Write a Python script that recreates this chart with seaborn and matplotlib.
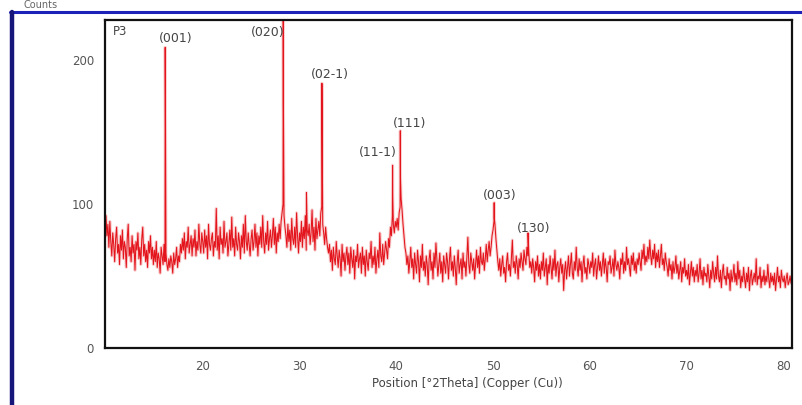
import numpy as np
import pandas as pd
import matplotlib
matplotlib.use("Agg")
import matplotlib.pyplot as plt
import seaborn as sns
from matplotlib.lines import Line2D
from matplotlib.ticker import MultipleLocator

# ---------------- data ----------------
# background counts on a 0.1 deg 2theta grid, 10.0 ... 80.8
bg_10_15 = [92, 78, 86, 70, 88, 74, 64, 80, 72, 60,
            76, 84, 66, 72, 58, 78, 68, 82, 62, 74,
            70, 56, 76, 86, 64, 70, 60, 78, 66, 72,
            54, 74, 68, 80, 62, 70, 58, 76, 84, 64,
            72, 60, 68, 56, 74, 66, 78, 62, 70, 58]
bg_15_20 = [68, 60, 74, 56, 66, 62, 52, 70, 64, 58,
            72, 60, 66, 58, 54, 62, 56, 64, 60, 52,
            66, 58, 62, 70, 56, 64, 60, 72, 66, 76,
            68, 80, 62, 74, 70, 84, 66, 72, 78, 64,
            76, 70, 82, 64, 74, 68, 86, 72, 66, 80]
bg_20_25 = [74, 66, 82, 70, 78, 62, 86, 72, 68, 76,
            80, 64, 74, 70, 97, 68, 78, 62, 84, 72,
            76, 66, 88, 70, 74, 80, 64, 72, 82, 68,
            91, 70, 76, 64, 84, 72, 68, 80, 74, 62,
            78, 70, 86, 66, 92, 74, 68, 80, 72, 64]
bg_25_30 = [76, 82, 68, 74, 86, 70, 80, 64, 78, 72,
            84, 70, 92, 74, 66, 80, 72, 88, 68, 76,
            82, 70, 78, 90, 72, 84, 66, 80, 74, 86,
            76, 88, 94, 100, 92, 84, 78, 70, 86, 74,
            82, 68, 90, 76, 72, 84, 70, 94, 78, 66]
bg_30_35 = [80, 74, 88, 70, 84, 76, 92, 68, 82, 78,
            86, 72, 80, 96, 74, 84, 68, 90, 76, 82,
            88, 78, 94, 98, 86, 80, 72, 84, 76, 70,
            66, 72, 60, 68, 54, 70, 62, 58, 74, 64,
            56, 68, 62, 50, 72, 60, 66, 54, 64, 70]
bg_35_40 = [58, 66, 52, 70, 62, 56, 68, 48, 64, 60,
            72, 56, 62, 66, 52, 70, 58, 64, 50, 68,
            60, 54, 66, 62, 74, 56, 64, 58, 70, 52,
            62, 68, 56, 80, 64, 60, 72, 58, 66, 74,
            68, 62, 76, 70, 84, 78, 92, 86, 80, 88]
bg_40_45 = [84, 90, 82, 94, 98, 104, 96, 86, 78, 70,
            66, 58, 64, 52, 60, 70, 56, 62, 48, 66,
            58, 52, 68, 60, 46, 64, 56, 72, 54, 60,
            50, 64, 58, 44, 62, 68, 54, 60, 48, 66,
            56, 73, 62, 50, 58, 66, 52, 60, 46, 64]
bg_45_50 = [58, 52, 66, 60, 48, 62, 70, 54, 60, 50,
            64, 56, 44, 60, 68, 52, 58, 62, 48, 66,
            56, 60, 50, 64, 77, 58, 52, 66, 60, 54,
            62, 48, 58, 68, 56, 64, 52, 70, 60, 58,
            66, 54, 62, 72, 60, 68, 74, 64, 70, 78]
bg_50_55 = [82, 88, 86, 76, 68, 60, 54, 62, 50, 58,
            64, 52, 56, 46, 60, 66, 54, 58, 50, 62,
            75, 56, 60, 52, 64, 58, 48, 62, 56, 66,
            60, 54, 68, 62, 58, 70, 64, 66, 56, 60,
            52, 62, 56, 46, 60, 54, 64, 50, 58, 48]
bg_55_60 = [60, 54, 66, 50, 56, 62, 44, 58, 52, 64,
            56, 48, 62, 54, 68, 50, 58, 60, 46, 56,
            62, 52, 58, 40, 54, 60, 48, 56, 64, 50,
            58, 66, 52, 48, 60, 54, 70, 56, 50, 62,
            54, 60, 46, 58, 64, 52, 56, 48, 62, 58]
bg_60_65 = [52, 60, 56, 66, 50, 58, 62, 48, 56, 64,
            54, 60, 50, 58, 66, 52, 62, 56, 46, 60,
            58, 64, 52, 56, 62, 50, 68, 58, 54, 60,
            56, 48, 62, 58, 66, 52, 60, 54, 70, 58,
            62, 56, 50, 64, 58, 66, 54, 60, 52, 62]
bg_65_70 = [58, 66, 60, 54, 68, 62, 72, 58, 64, 60,
            70, 62, 75, 64, 58, 68, 62, 72, 56, 66,
            60, 68, 56, 64, 72, 58, 62, 54, 66, 60,
            56, 50, 62, 54, 58, 48, 60, 52, 56, 64,
            52, 58, 48, 54, 60, 46, 56, 52, 62, 50]
bg_70_75 = [54, 48, 58, 44, 52, 60, 50, 56, 46, 54,
            50, 58, 46, 52, 62, 48, 54, 44, 56, 50,
            52, 46, 58, 50, 42, 54, 48, 60, 52, 46,
            56, 48, 64, 50, 46, 54, 42, 52, 58, 48,
            50, 44, 56, 48, 52, 40, 54, 46, 50, 58]
bg_75_80 = [46, 52, 44, 60, 48, 54, 42, 50, 46, 56,
            48, 42, 52, 46, 56, 40, 50, 54, 44, 48,
            52, 46, 62, 44, 50, 48, 56, 42, 50, 46,
            54, 44, 50, 46, 58, 48, 42, 52, 46, 50,
            44, 52, 40, 48, 56, 46, 50, 42, 54, 48]
bg_80_81 = [46, 50, 42, 48, 52, 44, 46, 50, 45]

# reflection samples (peak tops and shoulders)
peak_2theta = [16.12, 16.14, 28.32, 28.34, 30.72, 32.32, 32.34, 39.62, 39.64,
               40.42, 40.44, 50.12, 50.14, 53.62]
peak_counts = [209, 180, 232, 170, 108, 184, 160, 127, 105, 151, 118, 101, 90, 80]

# Miller index labels
hkl_labels = ["(001)", "(020)", "(02-1)", "(11-1)", "(111)", "(003)", "(130)"]
hkl_x = [17.2, 26.7, 33.1, 38.1, 41.4, 50.7, 54.2]
hkl_y = [215, 219, 190, 136, 156, 106, 83]

x_ticks = [20, 30, 40, 50, 60, 70, 80]
y_ticks = [0, 100, 200]

# ---------------- build table ----------------
bg = (bg_10_15 + bg_15_20 + bg_20_25 + bg_25_30 + bg_30_35 + bg_35_40 + bg_40_45 +
      bg_45_50 + bg_50_55 + bg_55_60 + bg_60_65 + bg_65_70 + bg_70_75 + bg_75_80 + bg_80_81)
grid = np.round(10.0 + 0.1 * np.arange(len(bg)), 2)
df = pd.DataFrame({"two_theta": np.concatenate([grid, peak_2theta]),
                   "counts": np.concatenate([bg, peak_counts])})
df = df.sort_values("two_theta").reset_index(drop=True)

# ---------------- figure ----------------
sns.set_style("white")
plt.rcParams["font.family"] = ["DejaVu Sans"]

fig = plt.figure(figsize=(8.03, 4.05), dpi=100)
ax = fig.add_axes([105 / 803, 1 - 348 / 405, (792 - 105) / 803, (348 - 20) / 405])

# soft halo (like the blurred original) + red trace
sns.lineplot(data=df, x="two_theta", y="counts", ax=ax, color="#f4a0a0",
             linewidth=2.2, alpha=0.5, estimator=None, sort=False)
sns.lineplot(data=df, x="two_theta", y="counts", ax=ax, color="#e3141c",
             linewidth=0.75, estimator=None, sort=False)

ax.set_xlim(9.9, 80.9)
ax.set_ylim(0, 228)
ax.set_xticks(x_ticks)
ax.set_yticks(y_ticks)
ax.xaxis.set_minor_locator(MultipleLocator(1))
ax.tick_params(axis="x", which="major", direction="out", length=6, width=1.2,
               colors="#333333", labelcolor="#555555", labelsize=8.5, pad=3)
ax.tick_params(axis="x", which="minor", direction="out", length=3, width=0.8, colors="#333333")
ax.tick_params(axis="y", which="major", direction="out", length=5, width=1.2,
               colors="#333333", labelcolor="#555555", labelsize=8.5, pad=3)
for s in ax.spines.values():
    s.set_visible(True)
    s.set_color("#111111")
    s.set_linewidth(1.6)

ax.set_xlabel("")
ax.set_ylabel("")
fig.text(467 / 803, 1 - 383 / 405, "Position [°2Theta] (Copper (Cu))", ha="center",
         va="center", fontsize=8.5, color="#444444")

for lab, xx, yy in zip(hkl_labels, hkl_x, hkl_y):
    ax.text(xx, yy, lab, ha="center", va="center", fontsize=9, color="#444444")
ax.text(0.012, 0.985, "P3", transform=ax.transAxes, ha="left", va="top",
        fontsize=8.5, color="#444444")

# window frame (blue) and "Counts" caption
fig.add_artist(Line2D([10 / 803, 1.0], [1 - 12 / 405, 1 - 12 / 405],
                      transform=fig.transFigure, color="#1c22b8", linewidth=2.2))
fig.add_artist(Line2D([12 / 803, 12 / 803], [0, 1 - 12 / 405],
                      transform=fig.transFigure, color="#16167a", linewidth=3.2))
fig.text(24 / 803, 1 - 5 / 405, "Counts", ha="left", va="center", fontsize=7, color="#666666")

fig.savefig("out.png", dpi=100, facecolor="white")
